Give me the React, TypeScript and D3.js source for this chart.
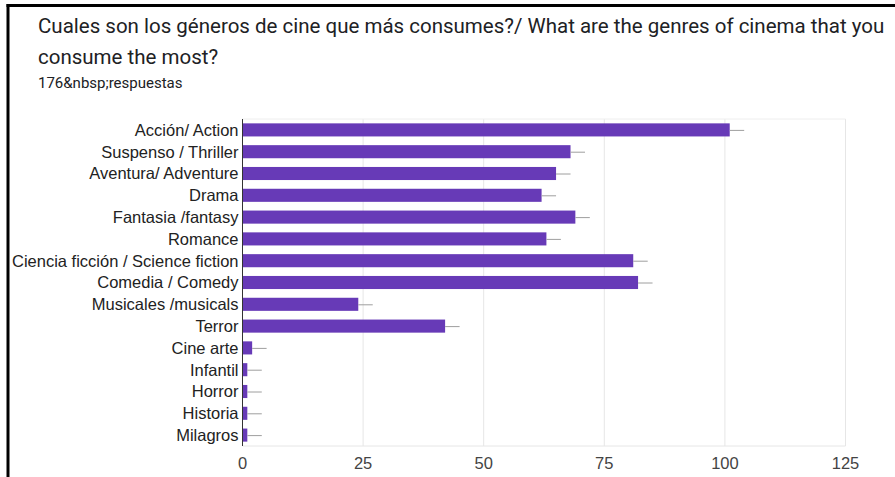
import React from "react";
import * as d3 from "d3";

const categories = [
  "Acción/ Action",
  "Suspenso / Thriller",
  "Aventura/ Adventure",
  "Drama",
  "Fantasia /fantasy",
  "Romance",
  "Ciencia ficción / Science fiction",
  "Comedia / Comedy",
  "Musicales /musicals",
  "Terror",
  "Cine arte",
  "Infantil",
  "Horror",
  "Historia",
  "Milagros",
];
const values = [101, 68, 65, 62, 69, 63, 81, 82, 24, 42, 2, 1, 1, 1, 1];
const errorMargin = 3;
const ticks = [0, 25, 50, 75, 100, 125];
const titleLines = [
  "Cuales son los géneros de cine que más consumes?/ What are the genres of cinema that you",
  "consume the most?",
];
const subtitle = "176&nbsp;respuestas";

const W = 895;
const H = 477;

export default function App() {
  const x = d3.scaleLinear().domain([0, 125]).range([242.5, 845.5]);
  const y = d3
    .scaleBand<string>()
    .domain(categories)
    .range([119, 446])
    .paddingInner(0.4)
    .paddingOuter(0.2);
  const top = 119;
  const bottom = 446;
  const bw = y.bandwidth();
  const labelFont = "'Liberation Sans', Arial, sans-serif";
  const titleFont = "Roboto, 'Noto Sans', sans-serif";

  return (
    <svg
      width={W}
      height={H}
      style={{ position: "absolute", left: 0, top: 0, background: "#fff" }}
    >
      <rect x={0} y={0} width={W} height={H} fill="#fff" />
      {/* frame */}
      <line x1={8} y1={4} x2={8} y2={H} stroke="#000" strokeWidth={3} />
      <line x1={6.5} y1={5.5} x2={W} y2={5.5} stroke="#000" strokeWidth={3} />

      {/* title */}
      {titleLines.map((t, i) => (
        <text
          key={i}
          x={38}
          y={33 + i * 31}
          fontFamily={titleFont}
          fontSize={20.5}
          fill="#202124"
        >
          {t}
        </text>
      ))}
      <text x={38} y={88} fontFamily={titleFont} fontSize={15} fill="#202124">
        {subtitle}
      </text>

      {/* gridlines */}
      {ticks.slice(1).map((t) => (
        <line
          key={t}
          x1={x(t)}
          x2={x(t)}
          y1={top}
          y2={bottom}
          stroke="#e6e6e6"
          strokeWidth={1}
        />
      ))}
      <line x1={x(0)} x2={x(125)} y1={top} y2={top} stroke="#eeeeee" />
      <line x1={x(0)} x2={x(125)} y1={bottom} y2={bottom} stroke="#e6e6e6" />

      {/* bars */}
      {categories.map((c, i) => {
        const yy = y(c)!;
        return (
          <g key={c}>
            <rect
              x={x(0)}
              y={yy}
              width={x(values[i]) - x(0)}
              height={bw}
              fill="#673ab7"
            />
            <line
              x1={x(values[i])}
              x2={x(values[i] + errorMargin)}
              y1={yy + bw / 2 + 0.5}
              y2={yy + bw / 2 + 0.5}
              stroke="#9e9e9e"
              strokeWidth={1}
            />
            <text
              x={238.5}
              y={yy + bw / 2}
              dy="0.36em"
              textAnchor="end"
              fontFamily={labelFont}
              fontSize={16.5}
              fill="#222"
            >
              {c}
            </text>
          </g>
        );
      })}

      {/* axis line */}
      <line x1={x(0)} x2={x(0)} y1={top} y2={bottom} stroke="#333" strokeWidth={1} />

      {/* tick labels */}
      {ticks.map((t) => (
        <text
          key={t}
          x={x(t)}
          y={469}
          textAnchor="middle"
          fontFamily={labelFont}
          fontSize={16.5}
          fill="#444"
        >
          {t}
        </text>
      ))}
    </svg>
  );
}
